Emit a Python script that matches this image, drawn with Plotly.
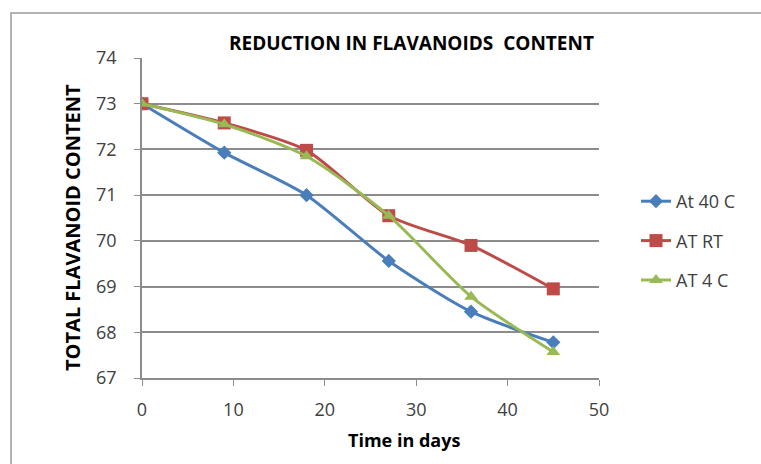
import plotly.graph_objects as go

days = [0, 9, 18, 27, 36, 45]
at_40c = [73.0, 71.93, 71.0, 69.56, 68.45, 67.78]
at_rt = [73.0, 72.58, 71.98, 70.55, 69.9, 68.95]
at_4c = [73.0, 72.55, 71.85, 70.55, 68.78, 67.57]

series_names = ["At 40 C", "AT RT", "AT 4 C"]
colors = ["#4A7EBB", "#BE4B48", "#98B954"]
symbols = ["diamond", "square", "triangle-up"]
sizes = [11, 13, 12]

x_ticks = [0, 10, 20, 30, 40, 50]
y_ticks = [67, 68, 69, 70, 71, 72, 73, 74]

W, H = 761, 464
L, R, T, B = 142, 162, 58, 86
pw, ph = W - L - R, H - T - B

def px_x(p):
    return (p - L) / pw

def px_y(p):
    return (H - B - p) / ph

fig = go.Figure()
for i, (name, vals) in enumerate(zip(series_names, [at_40c, at_rt, at_4c])):
    fig.add_trace(go.Scatter(
        x=days, y=vals, name=name, mode="lines+markers",
        line=dict(color=colors[i], width=3, shape="spline", smoothing=0.7),
        marker=dict(symbol=symbols[i], size=sizes[i], color=colors[i]),
        legendgroup=name,
    ))

font_family = "'Open Sans', sans-serif"
fig.update_layout(
    width=W, height=H,
    margin=dict(l=L, r=R, t=T, b=B),
    paper_bgcolor="white", plot_bgcolor="white",
    font=dict(family=font_family, size=16, color="#404040"),
    showlegend=True,
    legend=dict(x=px_x(636), y=px_y(183), xanchor="left", yanchor="top",
                font=dict(size=18, color="#404040"), traceorder="grouped",
                tracegroupgap=13, bgcolor="rgba(0,0,0,0)"),
    xaxis=dict(range=[0, 50], tickvals=x_ticks, showgrid=False,
               showline=True, linecolor="#8c8c8c", linewidth=1.5,
               ticks="outside", ticklen=6, tickcolor="#8c8c8c",
               ticklabelstandoff=9, zeroline=False,
               tickfont=dict(size=18, color="#404040")),
    yaxis=dict(range=[67, 74], tickvals=y_ticks, showgrid=True,
               gridcolor="#8c8c8c", gridwidth=1.5,
               showline=True, linecolor="#8c8c8c", linewidth=1.5,
               ticks="outside", ticklen=6, tickcolor="#8c8c8c",
               ticklabelstandoff=14, zeroline=False,
               tickfont=dict(size=18, color="#404040")),
    annotations=[
        dict(text="<b>REDUCTION IN FLAVANOIDS  CONTENT</b>", xref="paper", yref="paper",
             x=px_x(411), y=px_y(43), xanchor="center", yanchor="middle",
             showarrow=False, font=dict(size=19, color="#000000")),
        dict(text="<b>TOTAL FLAVANOID CONTENT</b>", xref="paper", yref="paper",
             x=px_x(72), y=px_y(228), xanchor="center", yanchor="middle",
             textangle=-90, showarrow=False, font=dict(size=20, color="#000000")),
        dict(text="<b>Time in days</b>", xref="paper", yref="paper",
             x=px_x(404), y=px_y(440), xanchor="center", yanchor="middle",
             showarrow=False, font=dict(size=18, color="#000000")),
    ],
    shapes=[
        dict(type="rect", xref="paper", yref="paper",
             x0=px_x(11), x1=px_x(800), y0=px_y(500), y1=px_y(13),
             line=dict(color="#9a9a9a", width=1.5), layer="below"),
    ],
)

fig.write_html("out.html")
